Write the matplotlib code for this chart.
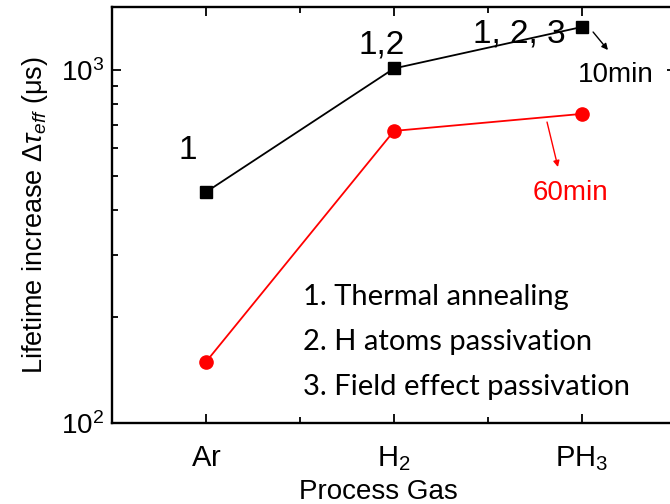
import matplotlib
matplotlib.use("Agg")
import matplotlib.pyplot as plt
from matplotlib.ticker import LogLocator, FixedLocator, NullFormatter

plt.rcParams['font.family'] = ['Liberation Sans', 'DejaVu Sans']
plt.rcParams['mathtext.fontset'] = 'custom'
plt.rcParams['mathtext.rm'] = 'Liberation Sans'
plt.rcParams['mathtext.it'] = 'Liberation Sans:italic'
plt.rcParams['mathtext.bf'] = 'Liberation Sans:bold'

# Process gases and lifetime increase (µs) for the two treatment times
gases = [r'$\mathrm{Ar}$', r'$\mathrm{H_2}$', r'$\mathrm{PH_3}$']
tau_10min = [451, 1010, 1324]
tau_60min = [149, 672, 751]
mechanisms = ['1', '1,2', '1, 2, 3']
notes = ['1. Thermal annealing', '2. H atoms passivation', '3. Field effect passivation']

fig = plt.figure(figsize=(6.70, 5.04), dpi=100)
ax = fig.add_axes([112 / 670, 81 / 504, 564 / 670, 416 / 504])

x = list(range(len(gases)))
ax.plot(x, tau_10min, color='black', lw=1.3, marker='s', ms=9, mec='black', mfc='black')
ax.plot(x, tau_60min, color='#ff0000', lw=1.3, marker='o', ms=9.5, mec='#ff0000', mfc='#ff0000')

ax.set_yscale('log')
ax.set_ylim(100, 1508)
ax.set_xlim(-0.5, 2.5)

ax.xaxis.set_major_locator(FixedLocator(x))
ax.xaxis.set_minor_locator(FixedLocator([0.5, 1.5]))
ax.set_xticklabels(gases)
ax.yaxis.set_major_locator(LogLocator(base=10))
ax.yaxis.set_minor_locator(LogLocator(base=10, subs=range(2, 10)))
ax.yaxis.set_minor_formatter(NullFormatter())

for sp in ax.spines.values():
    sp.set_linewidth(1.7)

ax.tick_params(which='both', direction='in', top=True, right=True, width=1.3)
ax.tick_params(which='major', length=6.5)
ax.tick_params(which='minor', length=4)
ax.tick_params(axis='x', which='major', labelsize=21, pad=15)
ax.tick_params(axis='y', which='major', labelsize=20, pad=6)

ax.set_xlabel('Process Gas', fontsize=20)
ax.xaxis.set_label_coords(0.472, -0.166)
ax.xaxis.label.set_va('center')
ax.set_ylabel(r'Lifetime increase $\Delta\tau_{eff}$ (μs)', fontsize=19.5, va='center')
ax.yaxis.set_label_coords(-0.137, 0.5)

# mechanism labels above each 10 min point
mech_pos = [(-0.096, 560), (0.936, 1117), (1.665, 1193)]
for (mx, my), lab in zip(mech_pos, mechanisms):
    ax.text(mx, my, lab, fontsize=24, ha='center', va='baseline')

ax.annotate('', xy=(2.138, 1139), xytext=(2.059, 1281),
            arrowprops=dict(arrowstyle='-|>', color='black', lw=1.0, mutation_scale=9,
                            shrinkA=0, shrinkB=0))
ax.text(2.181, 925, '10min', fontsize=20, ha='center', va='baseline', color='black')

ax.annotate('', xy=(1.872, 531), xytext=(1.814, 712),
            arrowprops=dict(arrowstyle='-|>', color='#ff0000', lw=1.0, mutation_scale=9,
                            shrinkA=0, shrinkB=0))
ax.text(1.936, 428, '60min', fontsize=20, ha='center', va='baseline', color='#ff0000')

for yy, note in zip([0.2837, 0.1755, 0.0673], notes):
    ax.text(0.3387, yy, note, transform=ax.transAxes, fontsize=21,
            family=['Lato', 'DejaVu Sans'], ha='left', va='baseline')

fig.savefig('out.png', dpi=100)
